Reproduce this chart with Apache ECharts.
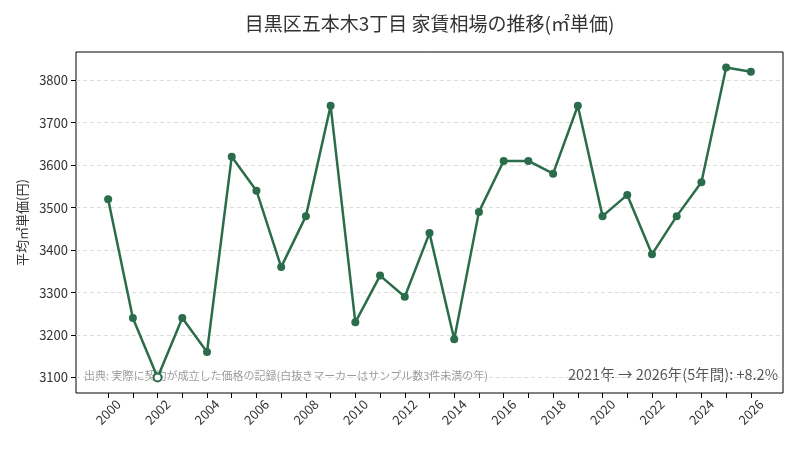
<!DOCTYPE html>
<html><head><meta charset="utf-8">
<script src="https://cdn.jsdelivr.net/npm/echarts@6/dist/echarts.min.js"></script>
<style>html,body{margin:0;padding:0;background:#fff}#c{width:800px;height:450px}</style>
</head><body><div id="c"></div>
<script>
const years = [2000,2001,2002,2003,2004,2005,2006,2007,2008,2009,2010,2011,2012,2013,2014,2015,2016,2017,2018,2019,2020,2021,2022,2023,2024,2025,2026];
const prices = [3520,3240,3100,3240,3160,3620,3540,3360,3480,3740,3230,3340,3290,3440,3190,3490,3610,3610,3580,3740,3480,3530,3390,3480,3560,3830,3820];
const lowSampleYears = [2002];
const yTicks = [3100,3200,3300,3400,3500,3600,3700,3800];
const xLabelYears = [2000,2002,2004,2006,2008,2010,2012,2014,2016,2018,2020,2022,2024,2026];
const titleText = '目黒区五本木3丁目 家賃相場の推移(㎡単価)';
const yName = '平均㎡単価(円)';
const sourceNote = '出典: 実際に契約が成立した価格の記録(白抜きマーカーはサンプル数3件未満の年)';
const changeNote = '2021年 → 2026年(5年間): +8.2%';

const GREEN = '#2b6d4a';
const FONT = '"Noto Sans CJK JP","Noto Sans",sans-serif';

const data = years.map((y,i)=>{
  const item = {value:[y,prices[i]]};
  if (lowSampleYears.includes(y)) item.itemStyle = {color:'#fff', borderColor:GREEN, borderWidth:2};
  return item;
});

const chart = echarts.init(document.getElementById('c'));
chart.setOption({
  animation:false,
  textStyle:{fontFamily:FONT},
  grid:{left:76,right:17,top:52,bottom:57,show:true,borderColor:'#000',borderWidth:1,backgroundColor:'transparent'},
  xAxis:{type:'value',min:1998.7,max:2027.3,
    axisLine:{show:false},
    axisTick:{show:true,length:5,lineStyle:{color:'#000'},customValues:years},
    axisLabel:{rotate:45,fontSize:13,color:'#333',margin:19,align:'center',verticalAlign:'middle',customValues:xLabelYears,formatter:v=>String(v),fontFamily:FONT},
    splitLine:{show:false}},
  yAxis:{type:'value',min:3063.5,max:3866.5,
    name:yName,nameLocation:'middle',nameGap:47,nameTextStyle:{fontSize:13,color:'#333',fontFamily:FONT},
    axisLine:{show:false},
    axisTick:{show:true,length:5,lineStyle:{color:'#000'},customValues:yTicks},
    axisLabel:{fontSize:13,color:'#333',customValues:yTicks,formatter:v=>String(v),fontFamily:FONT},
    splitLine:{show:true,lineStyle:{color:'#dddddd',type:[4,3],width:1}}},
  graphic:[
    {type:'text',x:429.5,y:24,style:{text:titleText,fontSize:19,fill:'#333',fontFamily:FONT,align:'center',verticalAlign:'middle'}},
    {type:'text',left:84,top:370,style:{text:sourceNote,fontSize:11,fill:'#999',fontFamily:FONT}},
    {type:'text',right:22,top:367,style:{text:changeNote,fontSize:14.5,fill:'#555',fontFamily:FONT}}
  ],
  series:[{type:'line',data:data,symbol:'circle',symbolSize:8,
    lineStyle:{color:GREEN,width:2.5},itemStyle:{color:GREEN},z:3}]
});
</script></body></html>
